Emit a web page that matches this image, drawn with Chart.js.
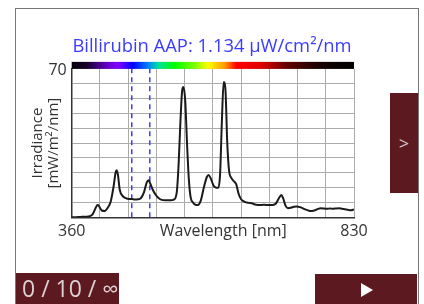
<!DOCTYPE html>
<html>
<head>
<meta charset="utf-8">
<script src="https://cdn.jsdelivr.net/npm/chart.js@4/dist/chart.umd.min.js"></script>
<style>
  html, body { margin: 0; padding: 0; background: #fff; }
  #wrap { position: relative; width: 424px; height: 304px; overflow: hidden; font-family: 'Open Sans', sans-serif; }
  #c { position: absolute; left: 0; top: 0; }
  #frame { position: absolute; left: 15px; top: 8px; width: 402px; height: 300px; border: 1.5px solid #777; box-sizing: content-box; pointer-events: none; }
  .btn { position: absolute; background: #5c1920; }
  #side { left: 390px; top: 93px; width: 28px; height: 100px; color: #d6cccc; font-size: 18px; line-height: 100px; text-align: center; }
  #count { left: 16px; top: 273px; width: 103px; height: 31px; color: #dcd2d2; font-size: 23px; line-height: 31px; padding-left: 6px; box-sizing: border-box; white-space: nowrap; }
  #play { left: 315px; top: 274px; width: 102px; height: 30px; }
  #tri { position: absolute; left: 361px; top: 283px; width: 0; height: 0; border-top: 7px solid transparent; border-bottom: 7px solid transparent; border-left: 12px solid #fff; }
</style>
</head>
<body>
<div id="wrap">
  <canvas id="c" width="424" height="304"></canvas>
  <div id="frame"></div>
  <div class="btn" id="side">&gt;</div>
  <div class="btn" id="count">0 / 10 / ∞</div>
  <div class="btn" id="play"></div>
  <div id="tri"></div>
</div>
<script>
// ---- data ----
const wavelengths = [360,365,370,375,380,385,390,395,400,403,405,410,415,420,425,430,433,435,437,440,445,450,455,460,465,470,475,480,485,488,490,495,500,505,510,515,520,525,530,535,538,541,544,546,549,552,555,558,562,566,570,575,580,585,588,592,596,600,604,607,610,613,616,619,622,626,630,634,638,642,648,655,660,665,670,680,690,695,700,705,709,712,716,720,725,730,735,740,745,750,755,760,765,770,775,780,785,790,795,800,805,810,815,820,825,830];
const irradiance  = [0,0,0.1,0.2,0.3,0.3,0.5,1.5,4.5,5.8,5.5,3.2,3.0,4.5,7.5,15,21,22.2,20,13,10,9,8.6,8.6,8.4,8.5,9.0,11.5,16.5,17.5,16.5,13,10.5,9,8.2,8.0,8.0,8.0,8.3,12,25,45,60,61.4,55,35,18,9.5,7,5.9,5.8,8,14,19,20,18,15,14,13.9,20,45,63.8,60,35,22,18.5,17,15.5,11,8.5,7.3,6.8,6.6,6.0,5.8,5.9,5.8,5.8,6.5,9,10.5,9,5.5,4.3,4.5,5,5.1,4.8,4.2,3.6,3.1,3,3.3,4.0,4.3,4.1,4,4.2,4,4.2,4.3,4.0,3.8,3.5,3.3,3.7];
const xTickLabels = [360, 830];
const yTickLabels = [70];
const aapRange = [460, 490];
const titleText = 'Billirubin AAP: 1.134 µW/cm²/nm';
const xAxisTitle = 'Wavelength [nm]';
const yAxisTitle = ['Irradiance', '[mW/m²/nm]'];
const spectrumStops = [
  [360,'#05000a'],[387,'#1a0030'],[420,'#6600cc'],[437,'#8000ff'],[462,'#0000ff'],
  [487,'#0080ff'],[504,'#00e0a0'],[531,'#00ff00'],[565,'#80ff00'],[587,'#ffff00'],
  [615,'#ff9900'],[634,'#ff0000'],[675,'#e00000'],[720,'#600000'],[765,'#200000'],
  [798,'#0a0000'],[830,'#000000']
];

Chart.defaults.font.family = "'Open Sans', sans-serif";
Chart.defaults.color = '#333';

const spectrumBar = {
  id: 'spectrumBar',
  afterDraw(chart) {
    const {ctx, chartArea, scales} = chart;
    const x = scales.x;
    const x0 = x.getPixelForValue(x.min), x1 = x.getPixelForValue(x.max);
    const g = ctx.createLinearGradient(x0, 0, x1, 0);
    spectrumStops.forEach(([nm, col]) => g.addColorStop((nm - x.min) / (x.max - x.min), col));
    ctx.save();
    ctx.fillStyle = g;
    ctx.fillRect(x0, chartArea.top - 7, x1 - x0, 7);
    // x axis title, on the same line as the tick labels
    ctx.fillStyle = '#333';
    ctx.font = "16px 'Open Sans', sans-serif";
    ctx.textAlign = 'center';
    ctx.textBaseline = 'middle';
    ctx.fillText(xAxisTitle, chartArea.left + chartArea.width * 0.537, chartArea.bottom + 14);
    ctx.restore();
  }
};

const dashSet = (nm) => ({
  data: [{x: nm, y: 0}, {x: nm, y: 70}],
  borderColor: '#3b3bff', borderWidth: 1.5, borderDash: [5, 4],
  pointRadius: 0, tension: 0
});

new Chart(document.getElementById('c'), {
  type: 'line',
  data: {
    datasets: [
      {
        data: wavelengths.map((w, i) => ({x: w, y: irradiance[i]})),
        borderColor: '#1a1a1a', borderWidth: 2, pointRadius: 0,
        cubicInterpolationMode: 'monotone', fill: false
      },
      dashSet(aapRange[0]),
      dashSet(aapRange[1])
    ]
  },
  options: {
    responsive: false,
    devicePixelRatio: 1,
    animation: false,
    layout: { padding: { left: 0, right: 0, top: 0, bottom: 56.7 } },
    plugins: {
      legend: { display: false },
      tooltip: { enabled: false },
      title: {
        display: true, text: titleText, color: '#3b3bff',
        font: { size: 18.4, weight: 'normal' },
        padding: { top: 35.7, bottom: 11.1 }
      }
    },
    scales: {
      x: {
        type: 'linear', min: 360, max: 830,
        ticks: {
          stepSize: 47, autoSkip: false, maxRotation: 0, padding: 5,
          font: { size: 16 }, color: '#333',
          callback: v => xTickLabels.includes(v) ? String(v) : ''
        },
        grid: { color: '#ababab', lineWidth: 1, drawTicks: false },
        border: { color: '#333', width: 1.5 },
        afterFit: s => { s.height = 30; }
      },
      y: {
        type: 'linear', min: 0, max: 70,
        ticks: {
          stepSize: 7, autoSkip: false, padding: 5, labelOffset: 1.5,
          font: { size: 16 }, color: '#333',
          callback: v => yTickLabels.includes(v) ? String(v) : ''
        },
        grid: { color: '#ababab', lineWidth: 1, drawTicks: false },
        border: { color: '#333', width: 1.5 },
        title: { display: true, text: yAxisTitle, font: { size: 15, lineHeight: 1.1 }, color: '#333', padding: { top: 29.25, bottom: 0 } },
        afterFit: s => { s.width = 71.7; }
      },
      yRight: {
        type: 'linear', position: 'right', min: 0, max: 70,
        ticks: { display: false },
        grid: { display: false, drawTicks: false },
        border: { display: false },
        afterFit: s => { s.width = 70; }
      }
    }
  },
  plugins: [spectrumBar]
});
</script>
</body>
</html>
